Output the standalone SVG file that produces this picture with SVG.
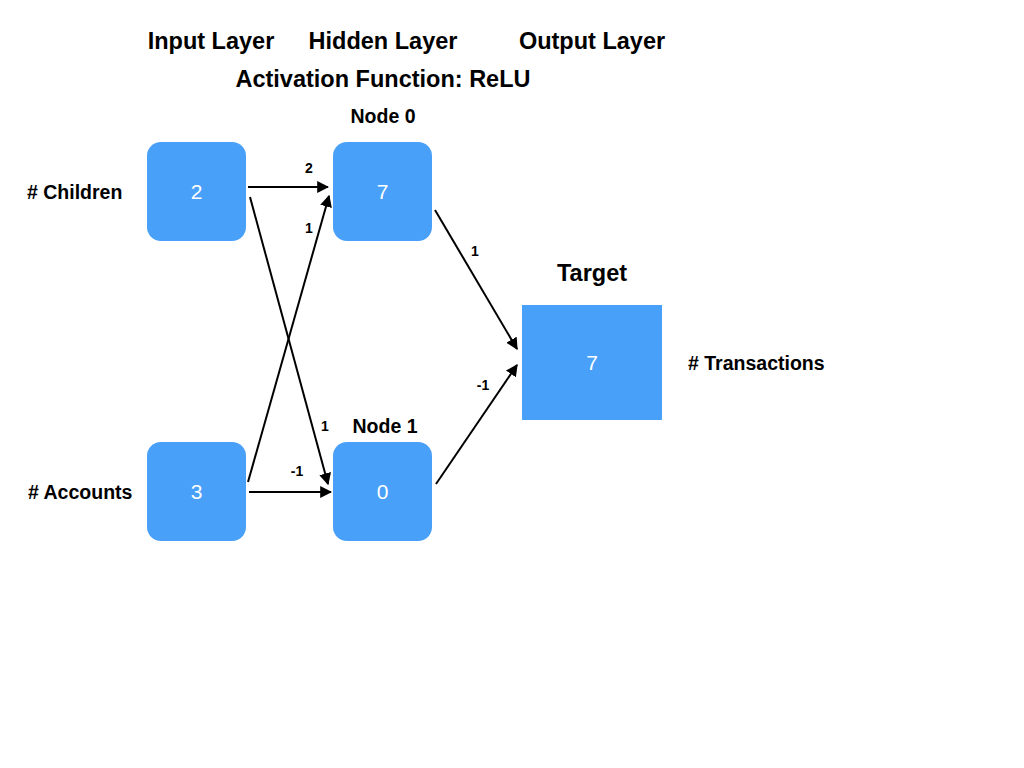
<svg xmlns="http://www.w3.org/2000/svg" width="1024" height="768" viewBox="0 0 1024 768">
<defs>
<style>
.box{fill:#48A0F8}
.num{font-family:"Liberation Sans",Arial,sans-serif;font-size:21px;fill:#fff;text-anchor:middle}
.hdr{font-family:"Liberation Sans",Arial,sans-serif;font-size:23.5px;font-weight:bold;fill:#000;text-anchor:middle}
.lbl{font-family:"Liberation Sans",Arial,sans-serif;font-size:19.5px;font-weight:bold;fill:#000}
.w{font-family:"Liberation Sans",Arial,sans-serif;font-size:14px;font-weight:bold;fill:#000;text-anchor:middle}
.edge{stroke:#000;stroke-width:2;fill:none;marker-end:url(#ah)}
</style>
<marker id="ah" viewBox="0 0 10 10" refX="9" refY="5" markerWidth="6" markerHeight="6" markerUnits="strokeWidth" orient="auto">
<path d="M0,0 L10,5 L0,10 Z" fill="#000"/>
</marker>
</defs>
<rect width="1024" height="768" fill="#fff"/>
<g id="headers">
<text class="hdr" x="211" y="49">Input Layer</text>
<text class="hdr" x="383" y="49">Hidden Layer</text>
<text class="hdr" x="592" y="49">Output Layer</text>
<text class="hdr" x="383" y="87">Activation Function: ReLU</text>
</g>
<g id="connectors">
<line class="edge" x1="248" y1="187" x2="328" y2="187"/>
<line class="edge" x1="250" y1="197" x2="328" y2="484"/>
<line class="edge" x1="248" y1="482" x2="329" y2="196"/>
<line class="edge" x1="249" y1="492" x2="331" y2="492"/>
<line class="edge" x1="435" y1="210" x2="517" y2="349"/>
<line class="edge" x1="436" y1="484" x2="517" y2="365"/>
<text class="w" x="309" y="173">2</text>
<text class="w" x="309" y="233">1</text>
<text class="w" x="325" y="431">1</text>
<text class="w" x="297" y="476">-1</text>
<text class="w" x="475" y="256">1</text>
<text class="w" x="483" y="390">-1</text>
</g>
<g id="input-children">
<rect class="box" x="147" y="142" width="99" height="99" rx="14"/>
<text class="num" x="196.5" y="199">2</text>
<text class="lbl" x="27" y="199"># Children</text>
</g>
<g id="input-accounts">
<rect class="box" x="147" y="442" width="99" height="99" rx="14"/>
<text class="num" x="196.5" y="499">3</text>
<text class="lbl" x="28" y="499"># Accounts</text>
</g>
<g id="node0">
<rect class="box" x="333" y="142" width="99" height="99" rx="14"/>
<text class="num" x="382.5" y="199">7</text>
<text class="lbl" x="383" y="123" text-anchor="middle">Node 0</text>
</g>
<g id="node1">
<rect class="box" x="333" y="442" width="99" height="99" rx="14"/>
<text class="num" x="382.5" y="499">0</text>
<text class="lbl" x="385" y="433" text-anchor="middle">Node 1</text>
</g>
<g id="target">
<rect class="box" x="522" y="305" width="140" height="115"/>
<text class="num" x="592" y="370">7</text>
<text class="hdr" x="592" y="281">Target</text>
<text class="lbl" x="688" y="370"># Transactions</text>
</g>
</svg>
